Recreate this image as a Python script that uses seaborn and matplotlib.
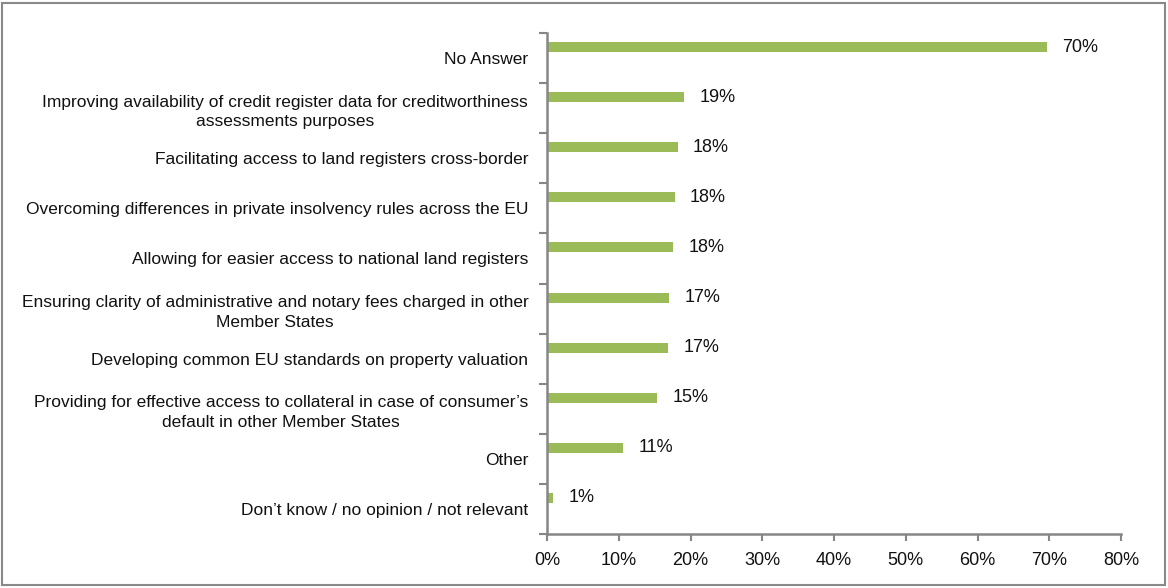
import matplotlib
matplotlib.use("Agg")
import matplotlib.pyplot as plt
import matplotlib.patches as mpatches
import numpy as np
import pandas as pd
import seaborn as sns

categories = [
    "No Answer",
    "Improving availability of credit register data for creditworthiness\nassessments purposes",
    "Facilitating access to land registers cross-border",
    "Overcoming differences in private insolvency rules across the EU",
    "Allowing for easier access to national land registers",
    "Ensuring clarity of administrative and notary fees charged in other\nMember States",
    "Developing common EU standards on property valuation",
    "Providing for effective access to collateral in case of consumer\u2019s\ndefault in other Member States",
    "Other",
    "Don\u2019t know / no opinion / not relevant",
]
shares = [69.7, 19.1, 18.2, 17.8, 17.6, 17.0, 16.9, 15.4, 10.6, 0.9]
x_ticks = [0, 10, 20, 30, 40, 50, 60, 70, 80]

sns.set_theme(style="white")
plt.rcParams["font.family"] = ["Liberation Sans", "DejaVu Sans"]

FS = 12.5
FS_NUM = 13
BAR = "#9BBB59"
AXIS = "#868686"
TEXT = "#111111"

# bars sit in the upper part of each category band
offset = 0.22
df = pd.DataFrame({
    "category": categories,
    "share": shares,
    "pos": np.arange(len(categories)) - offset,
})

fig = plt.figure(figsize=(11.68, 5.88), dpi=100)
ax = fig.add_axes([547 / 1168, 1 - 534 / 588, (1121 - 547) / 1168, (534 - 33) / 588])

sns.barplot(data=df, x="share", y="pos", orient="y", native_scale=True,
            width=0.2, color=BAR, saturation=1, ax=ax, linewidth=0)

ax.set_xlim(0, 80)
ax.set_ylim(len(categories) - 0.5, -0.5)

# value labels
ax.bar_label(ax.containers[0], labels=[f"{v:.0f}%" for v in shares],
             padding=11, fontsize=FS_NUM, color=TEXT)

# x axis
ax.set_xticks(x_ticks)
ax.set_xticklabels([f"{t}%" for t in x_ticks], color=TEXT, fontsize=FS_NUM)
ax.tick_params(axis="x", direction="out", length=5, width=1.5, color=AXIS, pad=8,
               bottom=True)

# y axis: tick marks at band boundaries, category labels centred in each band
ax.set_yticks(np.arange(len(categories) + 1) - 0.5)
ax.set_yticklabels([])
ax.tick_params(axis="y", which="major", direction="out", length=6, width=1.5,
               color=AXIS, left=True)
ax.set_yticks(np.arange(len(categories)), minor=True)
ax.set_yticklabels(categories, minor=True, color=TEXT, fontsize=FS,
                   multialignment="center", linespacing=1.38)
ax.tick_params(axis="y", which="minor", length=0, pad=13.5, left=True)

ax.set_xlabel("")
ax.set_ylabel("")
for side in ("top", "right"):
    ax.spines[side].set_visible(False)
for side in ("left", "bottom"):
    ax.spines[side].set_color(AXIS)
    ax.spines[side].set_linewidth(1.8)

# outer frame around the chart area
frame = mpatches.Rectangle((2 / 1168, 3 / 588), 1163 / 1168, 582 / 588,
                           transform=fig.transFigure, fill=False,
                           edgecolor="#898989", linewidth=1.5)
fig.patches.append(frame)

fig.savefig("out.png", dpi=100)
